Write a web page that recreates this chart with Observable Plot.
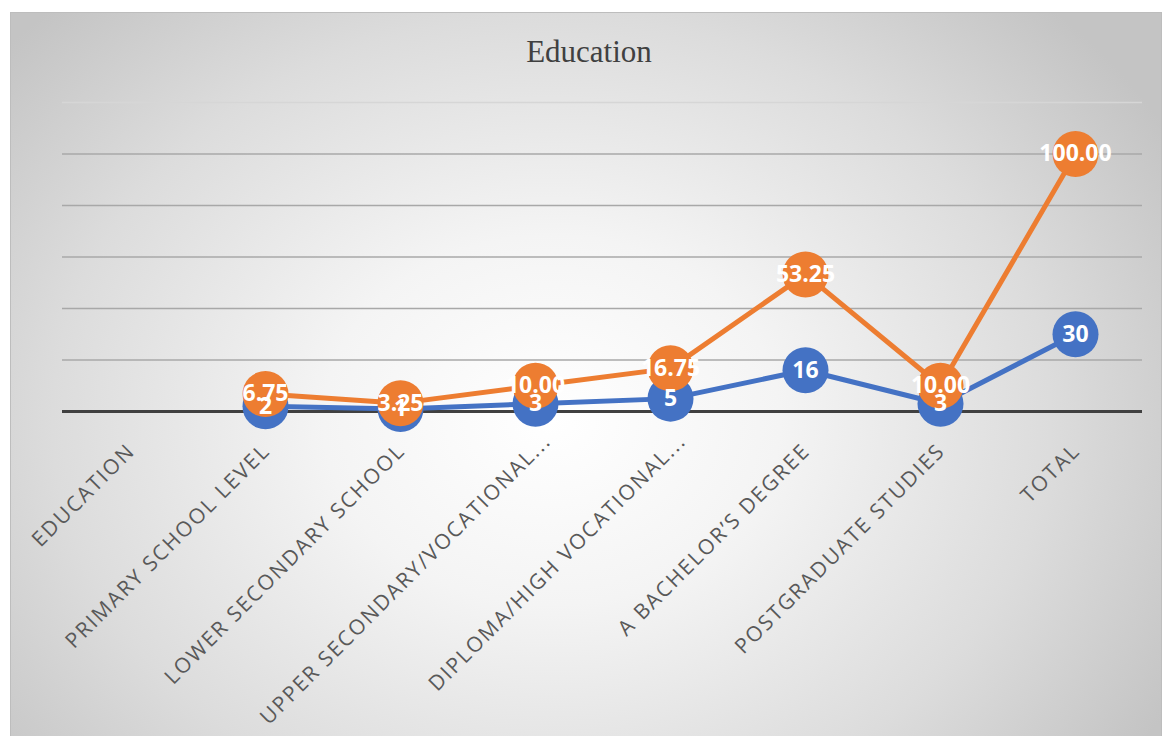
<!DOCTYPE html>
<html><head><meta charset="utf-8">
<script src="https://cdn.jsdelivr.net/npm/d3@7"></script>
<script src="https://cdn.jsdelivr.net/npm/@observablehq/plot@0.6"></script>
<style>
body{margin:0;background:#fff;overflow:hidden;}
#frame{position:absolute;left:10px;top:12px;width:1150px;height:740px;border:1px solid #bdbdbd;
background:radial-gradient(ellipse 62% 78% at 47% 55%, #ffffff 0%, #f4f4f4 32%, #dcdcdc 70%, #c4c4c4 100%);}
#title{position:absolute;left:14px;width:1150px;top:34px;text-align:center;font-family:"Liberation Serif",serif;font-size:31px;color:#404040;}
#chart{position:absolute;left:0;top:0;}
</style></head>
<body>
<div id="frame"></div>
<div id="title">Education</div>
<div id="chart"></div>
<script>
const categories = ["EDUCATION","PRIMARY SCHOOL LEVEL","LOWER SECONDARY SCHOOL","UPPER SECONDARY/VOCATIONAL...","DIPLOMA/HIGH VOCATIONAL...","A BACHELOR’S DEGREE","POSTGRADUATE STUDIES","TOTAL"];
const counts = [null,2,1,3,5,16,3,30];
const percents = [null,6.75,3.25,10.00,16.75,53.25,10.00,100.00];
const gridTicks = [20,40,60,80,100];
const topTick = [120];

const rows = categories.map((c,i)=>({cat:c, count:counts[i], pct:percents[i]}));
const pts = rows.filter(d=>d.count!=null);
const fullLabels = rows.filter(d=>!d.cat.endsWith("..."));
const cutLabels = rows.filter(d=>d.cat.endsWith("..."));
const blue = "#4472C4", orange = "#ED7D31";
const lblFont = "Open Sans";
const axisStyle = {text:"cat", rotate:-45, textAnchor:"end", fontSize:21, fill:"#595959", fontFamily:lblFont};

const chart = Plot.plot({
  width:1164, height:736,
  marginLeft:62, marginRight:22, marginTop:102, marginBottom:325,
  style:{background:"transparent", overflow:"visible"},
  x:{type:"point", domain:categories, padding:0.5, axis:null},
  y:{domain:[0,120], axis:null},
  marks:[
    Plot.ruleY(topTick,{stroke:"#d6d6d6", strokeWidth:1.3}),
    Plot.ruleY(gridTicks,{stroke:"#a8a8a8", strokeWidth:1.3}),
    Plot.ruleY([0],{stroke:"#404040", strokeWidth:3}),
    Plot.line(pts,{x:"cat", y:"count", stroke:blue, strokeWidth:5}),
    Plot.dot(pts,{x:"cat", y:"count", fill:blue, r:23}),
    Plot.line(pts,{x:"cat", y:"pct", stroke:orange, strokeWidth:5}),
    Plot.dot(pts,{x:"cat", y:"pct", fill:orange, r:23}),
    Plot.text(pts,{x:"cat", y:"count", text:d=>String(d.count), fill:"white", fontWeight:"bold", fontSize:23, fontFamily:lblFont}),
    Plot.text(pts,{x:"cat", y:"pct", text:d=>d.pct.toFixed(2), fill:"white", fontWeight:"bold", fontSize:23, fontFamily:lblFont}),
    Plot.text(fullLabels,{x:"cat", y:()=>0, dy:36, dx:1, ...axisStyle}),
    Plot.text(cutLabels,{x:"cat", y:()=>0, dy:26, dx:12, ...axisStyle})
  ]
});
d3.select(chart).selectAll('g[fill="#595959"] text').style("letter-spacing","1.9px");
document.getElementById("chart").appendChild(chart);
</script>
</body></html>
